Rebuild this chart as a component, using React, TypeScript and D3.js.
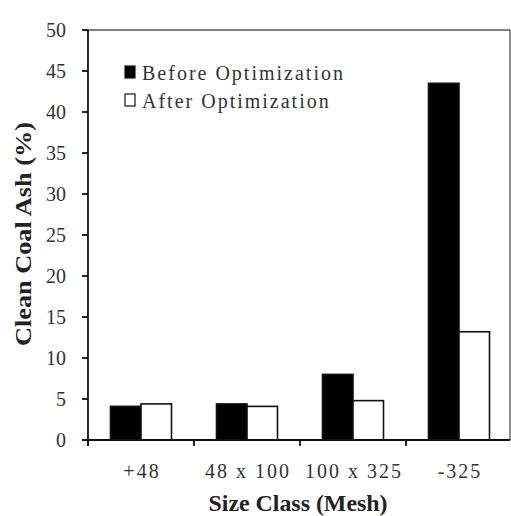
import React from "react";
import * as d3 from "d3";

const categories = ["+48", "48 x 100", "100 x 325", "-325"];
const seriesNames = ["Before Optimization", "After Optimization"];
const beforeValues = [4.1, 4.4, 8.0, 43.5];
const afterValues = [4.4, 4.1, 4.8, 13.2];
const yTicks = [0, 5, 10, 15, 20, 25, 30, 35, 40, 45, 50];

const W = 511;
const H = 516;
const left = 88;
const right = 510;
const top = 30;
const bottom = 440;

export default function App() {
  const x = d3.scaleBand<string>().domain(categories).range([left, left + 106 * 4]).paddingInner(0).paddingOuter(0);
  const y = d3.scaleLinear().domain([0, 50]).range([bottom, top]);
  const barW = 30.5;
  const font = "'Liberation Serif', 'Times New Roman', serif";
  const series = [
    { name: seriesNames[0], values: beforeValues, fill: "#000" },
    { name: seriesNames[1], values: afterValues, fill: "#fff" },
  ];
  return (
    <svg width={W} height={H} style={{ position: "absolute", left: 0, top: 0, background: "#fff" }} fontFamily={font}>
      <rect x={0} y={0} width={W} height={H} fill="#fff" />
      {/* frame */}
      <line x1={left} x2={right} y1={top} y2={top} stroke="#555" strokeWidth={1.3} />
      <line x1={right} x2={right} y1={top} y2={bottom} stroke="#555" strokeWidth={1.3} />
      {/* bars */}
      {categories.map((c, i) => {
        const cx = (x(c) as number) + x.bandwidth() / 2;
        return series.map((s, j) => {
          const v = s.values[i];
          const bx = cx - barW + j * barW;
          return (
            <rect key={c + j} x={bx} y={y(v)} width={barW} height={bottom - y(v)}
              fill={s.fill} stroke="#111" strokeWidth={1.6} />
          );
        });
      })}
      {/* y axis */}
      <line x1={left} x2={left} y1={top} y2={bottom + 6} stroke="#111" strokeWidth={1.8} />
      {yTicks.map((t) => (
        <g key={t}>
          <line x1={left - 6} x2={left} y1={y(t)} y2={y(t)} stroke="#111" strokeWidth={1.8} />
          <text x={66} y={y(t)} dy="0.35em" textAnchor="end" fontSize={20} fill="#333">{t}</text>
        </g>
      ))}
      {/* x axis */}
      <line x1={left - 6} x2={right} y1={bottom} y2={bottom} stroke="#111" strokeWidth={1.8} />
      {categories.map((c) => (
        <line key={"t" + c} x1={x(c) as number} x2={x(c) as number} y1={bottom} y2={bottom + 6} stroke="#111" strokeWidth={1.8} />
      ))}
      {categories.map((c) => (
        <text key={"l" + c} x={(x(c) as number) + x.bandwidth() / 2 + 1} y={478} textAnchor="middle" fontSize={20} letterSpacing={2} fill="#333">{c}</text>
      ))}
      <text x={298} y={511} textAnchor="middle" fontSize={24} fontWeight="bold" textLength={179} lengthAdjust="spacingAndGlyphs" fill="#222">Size Class (Mesh)</text>
      <text transform={`translate(31,234) rotate(-90)`} textAnchor="middle" fontSize={23} fontWeight="bold" textLength={224} lengthAdjust="spacingAndGlyphs" fill="#222">Clean Coal Ash (%)</text>
      {/* legend */}
      {series.map((s, j) => (
        <g key={s.name} transform={`translate(125,${73 + j * 28})`}>
          <rect x={0} y={-7} width={10} height={12} fill={s.fill} stroke="#111" strokeWidth={1.2} />
          <text x={17} y={0} dy="0.35em" fontSize={20} letterSpacing={2} fill="#333">{s.name}</text>
        </g>
      ))}
    </svg>
  );
}
